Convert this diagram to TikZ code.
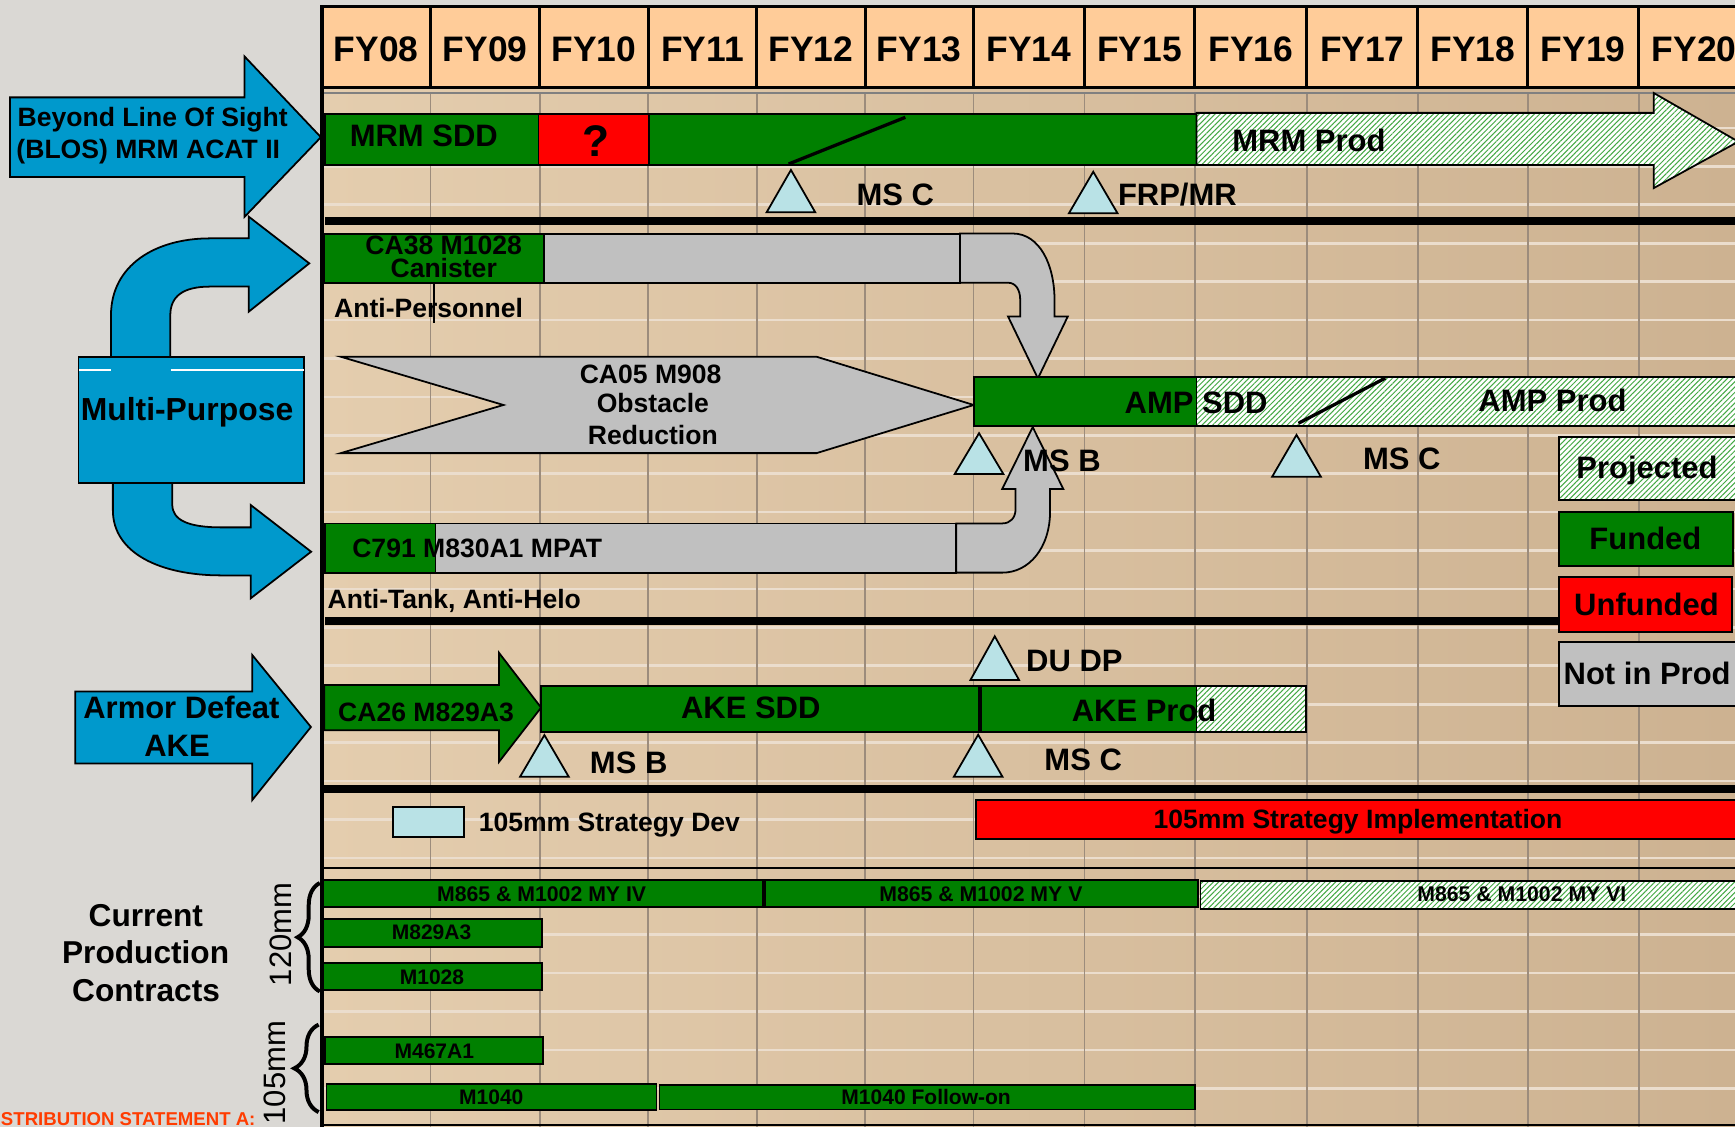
\documentclass[tikz,border=0pt]{standalone}
\usepackage{fontspec}
\setmainfont{Liberation Sans}
\usetikzlibrary{patterns.meta,decorations.pathreplacing}
\definecolor{xgreen}{HTML}{008000}
\definecolor{hgreen}{HTML}{44A844}
\definecolor{xgray}{HTML}{C0C0C0}
\definecolor{xred}{HTML}{FF0000}
\definecolor{mscyan}{HTML}{B9E2E6}
\definecolor{xblue}{HTML}{0099CC}
\definecolor{peach}{HTML}{FFCC99}
\definecolor{leftbg}{HTML}{DAD8D4}
\definecolor{tanL}{HTML}{E4CDAE}
\definecolor{tanR}{HTML}{CDB291}
\definecolor{hline}{HTML}{EBDDCD}
\definecolor{vline}{HTML}{9C8C7C}
\definecolor{distred}{HTML}{FF3C00}
\newcommand\fsz[1]{\fontsize{#1pt}{#1pt}\selectfont}
\newcommand\mst[3]{\draw[mstone] (#1-22,#3) -- (#1,#2) -- (#1+22,#3) -- cycle;}
\tikzset{
  box/.style={draw=black, line width=0.8pt},
  gbar/.style={box, fill=xgreen},
  graybar/.style={box, fill=xgray},
  rbar/.style={box, fill=xred},
  hbar/.style={box, preaction={fill=white}, pattern={Lines[angle=45,distance=1.7pt,line width=0.45pt]}, pattern color=hgreen},
  mstone/.style={draw=black, line width=0.8pt, fill=mscyan},
  bluearrow/.style={draw=black, line width=0.8pt, fill=xblue},
  lbl/.style={inner sep=0pt, anchor=base, font=\bfseries},
  sepline/.style={line width=3.6pt, black},
  hdr/.style={line width=1.4pt, black},
}
\begin{document}
\begin{tikzpicture}[x=0.5pt,y=-0.5pt]
\useasboundingbox (0,0) rectangle (1568,1018.5);
\begin{scope}
\clip (0,0) rectangle (1568,1018.5);
% backgrounds
\fill[leftbg] (0,0) rectangle (1568,1018.5);
\shade[left color=tanL, right color=tanR] (291,79) rectangle (1568,1018.5);
% light horizontal lines
\foreach \i in {0,...,25} \draw[hline, line width=1.2pt] (293,115.6+34.72*\i) -- (1568,115.6+34.72*\i);
% vertical grid lines
\foreach \x in {389,487.7,585.7,684,781.8,879.7,980,1079.8,1181,1281.4,1380.6,1481}
  \draw[vline, line width=0.8pt] (\x,84) -- (\x,1018.5);
\draw[gray, line width=0.8pt] (291,84) -- (1568,84);
% header
\fill[peach] (291,6) rectangle (1570,79);
\draw[hdr] (1570,6) -- (291,6) -- (291,1018.5);
\draw[hdr] (291,79) -- (1570,79);
\foreach \x in {389,487.7,585.7,684,781.8,879.7,980,1079.8,1181,1281.4,1380.6,1481}
  \draw[hdr] (\x,6) -- (\x,79);
\foreach \c/\l in {340/FY08,438.4/FY09,536.7/FY10,634.9/FY11,732.9/FY12,830.8/FY13,929.9/FY14,1029.9/FY15,1130.4/FY16,1231.2/FY17,1331/FY18,1430.8/FY19,1531/FY20}
  \node[lbl] (h\l) at (\c,55.7) {\fsz{16}\l};
% separators
\draw[sepline] (294,199.4) -- (1568,199.4);
\draw[sepline] (294,561) -- (1409,561);
\draw[sepline] (293,713) -- (1568,713);
\draw[line width=1pt] (291,784.5) -- (1568,784.5);
\draw[line width=1pt] (291,1016.5) -- (1568,1016.5);

% ===== MRM row
\draw[gbar] (294,103.3) rectangle (486.7,149.1);
\draw[rbar] (486.7,103.3) rectangle (586.4,149.1);
\draw[gbar] (586.4,103.3) rectangle (1081.4,149.1);
\draw[hbar] (1081.4,102) -- (1494.5,102) -- (1494.5,84) -- (1571,128) -- (1494.5,170) -- (1494.5,149.1) -- (1081.4,149.1) -- cycle;
\draw[line width=1.5pt] (712.7,148.2) -- (818.2,106);
\node[lbl] (mrmsdd) at (383,132.6) {\fsz{14}MRM SDD};
\node[lbl] (qmark) at (539,141.6) {\fsz{20}?};
\node[lbl] (mrmprod) at (1183,137.1) {\fsz{14}MRM Prod};
\mst{714.8}{153.6}{191.9}
\mst{988}{155.2}{192.8}
\node[lbl, anchor=base west] (msc1) at (773.7,185.3) {\fsz{14}MS C};
\node[lbl, anchor=base west] (frp) at (1010,185.3) {\fsz{14}FRP/MR};

% ===== CA38 row
\draw[graybar] (867.6,211) -- (915,211) .. controls (940,211) and (953,240) .. (953,271) -- (953,286) -- (965,286) -- (938,342) -- (911,286) -- (922,286) -- (922,271) .. controls (922,262) and (918,255.5) .. (911,255.5) -- (867.6,255.5) -- cycle;
\draw[gbar] (293.3,211.5) rectangle (491.8,255.8);
\draw[graybar] (491.8,211.5) rectangle (867.6,255.5);
\node[lbl] (ca38a) at (401,229.6) {\fsz{12}CA38 M1028};
\node[lbl] (ca38b) at (401,250.6) {\fsz{12}Canister};
\draw[line width=1pt] (392,256) -- (392,292);
\node[lbl, anchor=base west] (antip) at (301.6,286.8) {\fsz{12}Anti-Personnel};

% ===== CA05 chevron
\draw[graybar] (308,322.4) -- (738,322.4) -- (880,366) -- (738,409.5) -- (308,409.5) -- (455,366) -- cycle;
\node[lbl] (ca05a) at (588,347) {\fsz{12}CA05 M908};
\node[lbl] (ca05b) at (590,373) {\fsz{12}Obstacle};
\node[lbl] (ca05c) at (590,402) {\fsz{12}Reduction};

% ===== MPAT row
\draw[graybar] (864.2,473) -- (906,473) .. controls (913,473) and (917.8,468) .. (917.8,460) -- (917.8,442) -- (905.7,442) -- (933.3,386) -- (961,442) -- (949,442) -- (949,462) .. controls (949,495) and (930,517.5) .. (906,517.5) -- (864.2,517.5) -- cycle;
\draw[gbar] (294,473) rectangle (393.6,517.5);
\draw[graybar] (393.6,473) rectangle (864.2,517.5);
\node[lbl, anchor=base west] (mpat) at (318,503.7) {\fsz{12}C791 M830A1 MPAT};
\node[lbl, anchor=base west] (antit) at (295.7,549.8) {\fsz{12}Anti-Tank, Anti-Helo};

% ===== AMP row
\draw[gbar] (880,340.7) rectangle (1081.4,384.8);
\draw[hbar] (1081.4,340.7) rectangle (1575,384.8);
\draw[line width=1.5pt] (1173.5,382.5) -- (1252,341.7);
\node[lbl] (ampsdd) at (1081,374) {\fsz{14}AMP SDD};
\node[lbl] (ampprod) at (1403,372) {\fsz{14}AMP Prod};
\mst{884.8}{391.5}{428.4}
\mst{1171.7}{393}{430.8}
\node[lbl, anchor=base west] (msb1) at (924.3,426) {\fsz{14}MS B};
\node[lbl, anchor=base west] (msc2) at (1231.5,424) {\fsz{14}MS C};

% ===== legend
\draw[hbar] (1408.6,394.6) rectangle (1575,452);
\draw[gbar] (1408.6,462.4) rectangle (1566,511.5);
\draw[rbar] (1408.6,521.2) rectangle (1565,571);
\draw[graybar] (1408.6,580.3) rectangle (1575,638);
\node[lbl] (lgp) at (1488.5,432) {\fsz{14}Projected};
\node[lbl] (lgf) at (1487,497) {\fsz{14}Funded};
\node[lbl] (lgu) at (1488,555.8) {\fsz{14}Unfunded};
\node[lbl] (lgn) at (1488.6,619) {\fsz{14}Not in Prod};

% ===== AKE row
\draw[gbar] (293,619) -- (451,619) -- (451,590) -- (489,639.5) -- (451,688.5) -- (451,660) -- (293,660) -- cycle;
\draw[gbar] (489,619.7) rectangle (885.7,661.7);
\draw[gbar] (885.7,619.7) rectangle (1081.4,661.7);
\draw[hbar] (1081.4,619.7) rectangle (1180.3,661.7);
\draw[line width=1.7pt] (885.7,619.7) -- (885.7,661.7);
\node[lbl] (ca26) at (385,652) {\fsz{12}CA26 M829A3};
\node[lbl] (akesdd) at (678.5,649.2) {\fsz{14}AKE SDD};
\node[lbl] (akeprod) at (1034,652.2) {\fsz{14}AKE Prod};
\mst{899}{575}{614.6}
\mst{492}{664.3}{702}
\mst{884}{664}{702}
\node[lbl, anchor=base west] (dudp) at (927,607) {\fsz{14}DU DP};
\node[lbl, anchor=base west] (msb2) at (532.8,699) {\fsz{14}MS B};
\node[lbl, anchor=base west] (msc3) at (943.5,696) {\fsz{14}MS C};

% ===== 105mm strategy
\draw[mstone] (355.2,729) rectangle (419.2,756.7);
\node[lbl, anchor=base west] (sdev) at (432.3,751.6) {\fsz{12}105mm Strategy Dev};
\draw[rbar] (882,723) rectangle (1575,758.5);
\node[lbl] (simp) at (1227.3,748.6) {\fsz{12}105mm Strategy Implementation};

% ===== current production
\draw[gbar] (292,795) rectangle (689.5,820);
\draw[gbar] (691.6,795) rectangle (1082.5,820);
\draw[hbar] (1085,796) rectangle (1575,821.8);
\node[lbl] (my4) at (489.5,815) {\fsz{9.6}M865 \& M1002 MY IV};
\node[lbl] (my5) at (886.5,815) {\fsz{9.6}M865 \& M1002 MY V};
\node[lbl] (my6) at (1375.4,815) {\fsz{9.6}M865 \& M1002 MY VI};
\draw[gbar] (292.3,830.7) rectangle (489.8,855.5);
\node[lbl] (m829) at (390,849.5) {\fsz{9.5}M829A3};
\draw[gbar] (292.3,870.6) rectangle (490,894.7);
\node[lbl] (m1028) at (390.4,889.3) {\fsz{9.5}M1028};
\draw[gbar] (294,937) rectangle (491,961.8);
\node[lbl] (m467) at (392.5,956.5) {\fsz{9.5}M467A1};
\draw[gbar] (295,979.6) rectangle (593.3,1003);
\node[lbl] (m1040) at (444,998.6) {\fsz{9.5}M1040};
\draw[gbar] (596,980.6) rectangle (1079.8,1002.6);
\node[lbl] (m1040f) at (837,998.6) {\fsz{9.5}M1040 Follow-on};

\node[lbl] (cur1) at (131.8,837) {\fsz{14.3}Current};
\node[lbl] (cur2) at (131.6,870.6) {\fsz{14.3}Production};
\node[lbl] (cur3) at (132,905.3) {\fsz{14.3}Contracts};
\node[lbl, font=\normalfont, rotate=90] (mm120) at (263,844.5) {\fsz{14}120mm};
\node[lbl, font=\normalfont, rotate=90] (mm105) at (258,969.5) {\fsz{14}105mm};
\draw[line width=1.8pt, decorate, decoration={brace, amplitude=10pt}] (289,896) -- (289,798);
\draw[line width=1.8pt, decorate, decoration={brace, amplitude=11pt}] (288,1005) -- (288,926);
\node[lbl, anchor=base west, text=distred] (dist) at (0.5,1017) {\fsz{8.4}STRIBUTION STATEMENT A:};

% ===== left blue arrows
\draw[bluearrow] (9,88) -- (221,88) -- (221,51) -- (290,124) -- (221,196) -- (221,160) -- (9,160) -- cycle;
\node[lbl, anchor=base west] (blos1) at (15.6,114.5) {\fsz{12}Beyond Line Of Sight};
\node[lbl, anchor=base west] (blos2) at (14.5,143) {\fsz{12}(BLOS) MRM ACAT II};

\draw[bluearrow] (100.3,330) -- (100.3,285) .. controls (100.3,240) and (140,215.4) .. (190,215.4) -- (224.8,215.4) -- (224.8,195.8) -- (279.5,238) -- (224.8,281.7) -- (224.8,259) -- (190,259) .. controls (165,259) and (153.9,268) .. (153.9,285) -- (153.9,330) -- cycle;
\draw[bluearrow] (102,430) -- (102,461) .. controls (102,500) and (145,520) .. (200,520) -- (226.6,520) -- (226.6,540.7) -- (281.2,498.6) -- (226.6,456.4) -- (226.6,476.6) -- (200,476.6) .. controls (170,476.6) and (155.7,470) .. (155.7,456) -- (155.7,430) -- cycle;
\draw[bluearrow] (71,322.5) rectangle (275,436.2);
\draw[white, line width=0.6pt] (71.5,334.4) -- (100,334.4) (154.2,334.4) -- (274.5,334.4);
\node[lbl] (multi) at (169,380) {\fsz{14.4}Multi-Purpose};

\draw[bluearrow] (68,625) -- (228,625) -- (228,592) -- (281,657) -- (228,723) -- (228,690) -- (68,690) -- cycle;
\node[lbl] (armor1) at (164,649) {\fsz{14}Armor Defeat};
\node[lbl] (armor2) at (160,683.8) {\fsz{14}AKE};
\end{scope}
\end{tikzpicture}
\end{document}
